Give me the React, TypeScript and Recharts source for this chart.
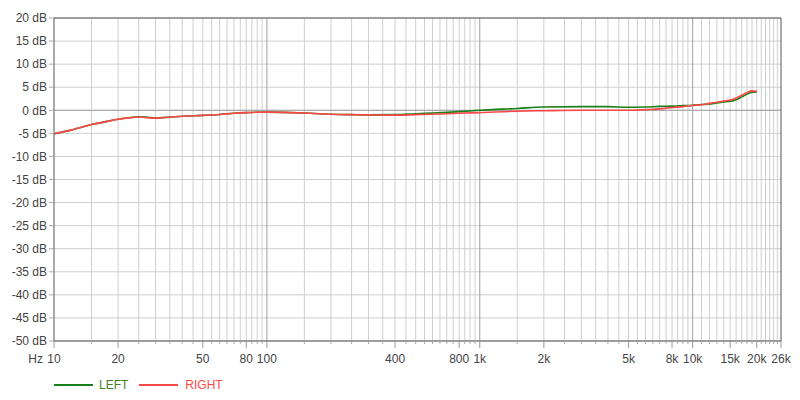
import React from 'react';
import { LineChart, Line, XAxis, YAxis, CartesianGrid, ReferenceLine } from 'recharts';

const freqs = [10, 12, 15, 18, 20, 23, 25, 28, 30, 35, 40, 50, 60, 70, 80, 100, 130, 160, 200, 250, 300, 400, 500, 600, 700, 800, 1000, 1500, 2000, 3000, 4000, 5000, 6000, 7000, 8000, 9000, 10000, 11000, 12000, 13000, 14000, 15000, 16000, 17000, 18000, 19000, 20000];
const leftDb = [-5.1, -4.3, -3.1, -2.35, -1.95, -1.55, -1.4, -1.55, -1.65, -1.45, -1.3, -1.1, -0.9, -0.65, -0.5, -0.4, -0.5, -0.65, -0.85, -0.95, -1.0, -0.95, -0.75, -0.6, -0.45, -0.3, 0.0, 0.4, 0.7, 0.8, 0.8, 0.65, 0.7, 0.85, 0.9, 1.0, 1.1, 1.25, 1.35, 1.6, 1.8, 1.95, 2.3, 2.9, 3.5, 3.9, 4.0];
const rightDb = [-5.1, -4.3, -3.1, -2.35, -1.95, -1.6, -1.45, -1.65, -1.7, -1.5, -1.3, -1.1, -0.9, -0.65, -0.5, -0.4, -0.5, -0.65, -0.85, -0.95, -1.0, -1.05, -0.95, -0.85, -0.75, -0.65, -0.5, -0.2, -0.1, 0.0, 0.0, 0.0, 0.15, 0.3, 0.6, 0.8, 1.05, 1.2, 1.5, 1.75, 2.0, 2.2, 2.65, 3.25, 3.85, 4.2, 4.1];

const xLabelValues = [10, 20, 50, 80, 100, 400, 800, 1000, 2000, 5000, 8000, 10000, 15000, 20000, 26000];
const xLabelTexts = ['10', '20', '50', '80', '100', '400', '800', '1k', '2k', '5k', '8k', '10k', '15k', '20k', '26k'];
const yTicks = [-50, -45, -40, -35, -30, -25, -20, -15, -10, -5, 0, 5, 10, 15, 20];
const decadeLines = [100, 1000, 10000];
const minorSteps = [
  { from: 15, to: 95, step: 5 },
  { from: 150, to: 950, step: 50 },
  { from: 1500, to: 9500, step: 500 },
  { from: 11000, to: 25000, step: 1000 },
];

const gridValues: number[] = [];
minorSteps.forEach(({ from, to, step }) => {
  for (let v = from; v <= to; v += step) gridValues.push(v);
});
const allTicks = Array.from(new Set([...gridValues, ...decadeLines, ...xLabelValues])).sort((a, b) => a - b);

const data = freqs.map((f, i) => ({ f, left: leftDb[i], right: rightDb[i] }));

const FONT = '"Liberation Sans", Arial, sans-serif';
const TEXT = '#444';
const GREEN = '#17801a';
const RED = '#ff4747';

const XTick = (props: any) => {
  const { x, y, payload } = props;
  const v = payload.value;
  const idx = xLabelValues.indexOf(v);
  if (idx >= 0) {
    return (
      <g>
        <line x1={x} x2={x} y1={y} y2={y + 7} stroke="#999" />
        <text x={x} y={y + 22} textAnchor="middle" fill={TEXT} fontSize={12} fontFamily={FONT}>
          {xLabelTexts[idx]}
        </text>
        {v === 10 && (
          <text x={x - 11} y={y + 22} textAnchor="end" fill={TEXT} fontSize={12} fontFamily={FONT}>
            Hz
          </text>
        )}
      </g>
    );
  }
  return <line x1={x} x2={x} y1={y} y2={y + 3} stroke="#aaa" />;
};

export default function App() {
  return (
    <div style={{ position: 'absolute', left: 0, top: 0, width: 800, height: 400, fontFamily: FONT }}>
      <LineChart width={800} height={400} data={data} margin={{ top: 18, right: 19, left: 0, bottom: 19 }}>
        <CartesianGrid stroke="#cfcfcf" fill="none" verticalValues={gridValues} horizontalValues={yTicks} />
        <CartesianGrid stroke="#a0a0a0" fill="none" verticalValues={decadeLines} horizontalValues={[0]} />
        <XAxis
          dataKey="f"
          type="number"
          scale="log"
          domain={[10, 26000]}
          ticks={allTicks}
          interval={0}
          tick={<XTick />}
          tickLine={false}
          tickSize={0}
          tickMargin={0}
          height={40}
          axisLine={{ stroke: '#555' }}
          allowDataOverflow
        />
        <YAxis
          type="number"
          domain={[-50, 20]}
          ticks={yTicks}
          interval={0}
          width={54}
          tickSize={5}
          tickMargin={2}
          tickLine={{ stroke: '#aaa' }}
          axisLine={{ stroke: '#555' }}
          tick={{ fill: TEXT, fontSize: 12, fontFamily: FONT }}
          tickFormatter={(v: number) => `${v} dB`}
          allowDataOverflow
        />
        <ReferenceLine y={20} stroke="#555" />
        <ReferenceLine x={26000} stroke="#555" />
        <Line type="monotone" dataKey="left" stroke={GREEN} strokeWidth={1.6} dot={false} isAnimationActive={false} />
        <Line type="monotone" dataKey="right" stroke={RED} strokeWidth={1.6} dot={false} isAnimationActive={false} />
      </LineChart>
      <div style={{ position: 'absolute', left: 54, top: 377, display: 'flex', alignItems: 'center', fontSize: 12, fontFamily: FONT }}>
        <svg width={40} height={16}><line x1={0} x2={39} y1={8} y2={8} stroke={GREEN} strokeWidth={2} /></svg>
        <span style={{ color: '#3f7f1f', marginLeft: 5, marginRight: 11 }}>LEFT</span>
        <svg width={40} height={16}><line x1={0} x2={39} y1={8} y2={8} stroke={RED} strokeWidth={2} /></svg>
        <span style={{ color: RED, marginLeft: 6 }}>RIGHT</span>
      </div>
    </div>
  );
}
